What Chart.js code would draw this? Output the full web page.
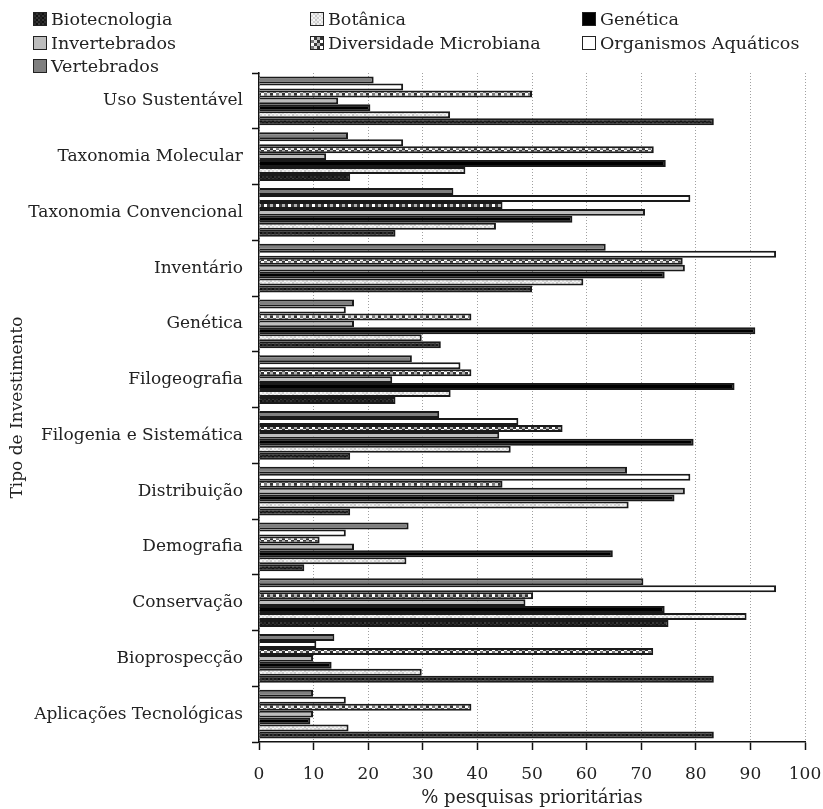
<!DOCTYPE html>
<html>
<head>
<meta charset="utf-8">
<script src="https://cdn.jsdelivr.net/npm/chart.js@4"></script>
<style>
  html, body { margin: 0; padding: 0; background: #fff; }
  #wrap { position: relative; width: 823px; height: 809px; }
  #legend { position: absolute; left: 0; top: 0; width: 823px; height: 73px;
    font-family: "DejaVu Serif", serif; font-size: 17.5px; color: #222; }
  .item { position: absolute; display: flex; align-items: center; white-space: nowrap; }
  .box { width: 12px; height: 12px; border: 1px solid #222; margin-right: 4px; }
</style>
</head>
<body>
<div id="wrap">
  <canvas id="chartData" width="823" height="809"></canvas>
  <div id="legend"></div>
</div>
<script>
{
    // categories, top to bottom
    const categories = [
        'Uso Sustentável', 'Taxonomia Molecular', 'Taxonomia Convencional', 'Inventário',
        'Genética', 'Filogeografia', 'Filogenia e Sistemática', 'Distribuição',
        'Demografia', 'Conservação', 'Bioprospecção', 'Aplicações Tecnológicas'
    ];

    // % pesquisas prioritárias, one value per category
    const biotecnologia = [83.3, 16.7, 25, 50, 33.3, 25, 16.7, 16.7, 8.3, 75, 83.3, 83.3];
    const botanica = [35, 37.8, 43.4, 59.4, 29.8, 35.1, 46.1, 67.7, 27, 89.3, 29.8, 16.4];
    const genetica = [20.4, 74.5, 57.4, 74.3, 90.9, 87.1, 79.6, 76.1, 64.8, 74.3, 13.3, 9.4];
    const invertebrados = [14.5, 12.3, 70.7, 78, 17.4, 24.4, 44, 78, 17.4, 48.8, 9.9, 9.9];
    const diversidadeMicrobiana = [50, 72.3, 44.6, 77.6, 38.9, 38.9, 55.6, 44.6, 11.1, 50.2, 72.2, 38.9];
    const organismosAquaticos = [26.4, 26.4, 79, 94.7, 15.9, 36.9, 47.5, 79, 15.9, 94.7, 10.5, 15.9];
    const vertebrados = [21, 16.3, 35.6, 63.5, 17.4, 28, 33, 67.4, 27.4, 70.4, 13.8, 9.9];

    const xTicks = [0, 10, 20, 30, 40, 50, 60, 70, 80, 90, 100];

    const FONT = '"DejaVu Serif", serif';

    // small tiled fills
    function makeTile(cells, size) {
        let c = document.createElement('canvas');
        c.width = cells[0].length * size;
        c.height = cells.length * size;
        let g = c.getContext('2d');
        cells.forEach((row, r) => row.forEach((col, k) => {
            g.fillStyle = col;
            g.fillRect(k * size, r * size, size, size);
        }));
        return c;
    }

    const ctx = document.getElementById('chartData');
    const g2 = ctx.getContext('2d');

    const tiles = {
        biotec: makeTile([
            ['#1c1c1c', '#333', '#1c1c1c', '#262626', '#111', '#2e2e2e'],
            ['#2b2b2b', '#111', '#3a3a3a', '#1a1a1a', '#333', '#1c1c1c']
        ], 2),
        botanica: makeTile([
            ['#f2f2f2', '#d4d4d4', '#e8e8e8', '#cccccc', '#f6f6f6', '#dddddd'],
            ['#dcdcdc', '#f7f7f7', '#c8c8c8', '#eeeeee', '#d8d8d8', '#f0f0f0']
        ], 2),
        micro: makeTile([
            ['#ffffff', '#3a3a3a', '#b0b0b0', '#333333'],
            ['#7a7a7a', '#e0e0e0', '#333333', '#ffffff']
        ], 3)
    };

    const fills = {
        biotec: g2.createPattern(tiles.biotec, 'repeat'),
        botanica: g2.createPattern(tiles.botanica, 'repeat'),
        micro: g2.createPattern(tiles.micro, 'repeat')
    };

    // dataset order = top to bottom inside each group
    const series = [
        { label: 'Vertebrados', data: vertebrados, bg: '#7f7f7f', css: '#7f7f7f' },
        { label: 'Organismos Aquáticos', data: organismosAquaticos, bg: '#ffffff', css: '#ffffff' },
        { label: 'Diversidade Microbiana', data: diversidadeMicrobiana, bg: fills.micro, tile: tiles.micro },
        { label: 'Invertebrados', data: invertebrados, bg: '#bdbdbd', css: '#bdbdbd' },
        { label: 'Genética', data: genetica, bg: '#000000', css: '#000000' },
        { label: 'Botânica', data: botanica, bg: fills.botanica, tile: tiles.botanica },
        { label: 'Biotecnologia', data: biotecnologia, bg: fills.biotec, tile: tiles.biotec }
    ];

    new Chart(ctx, {
        type: 'bar',
        data: {
            labels: categories,
            datasets: series.map(s => ({
                label: s.label,
                data: s.data,
                backgroundColor: s.bg,
                borderColor: '#1a1a1a',
                borderWidth: 2,
                categoryPercentage: 0.87,
                barPercentage: 1.0
            }))
        },
        options: {
            indexAxis: 'y',
            responsive: false,
            animation: false,
            layout: { padding: { top: 73, right: 18, left: 0, bottom: 0 } },
            plugins: {
                legend: { display: false },
                tooltip: { enabled: false }
            },
            scales: {
                x: {
                    min: 0,
                    max: 100,
                    afterBuildTicks: (scale) => {
                        scale.ticks = xTicks.map(v => ({ value: v }));
                    },
                    afterFit: (scale) => {
                        scale.height = 809 - 742;
                        scale.paddingRight = 0;
                        scale.paddingLeft = 0;
                    },
                    ticks: {
                        color: '#222',
                        font: { family: FONT, size: 17 },
                        padding: 14,
                        maxRotation: 0
                    },
                    grid: {
                        color: '#a0a0a0',
                        lineWidth: 1,
                        tickLength: 8,
                        tickColor: '#111',
                        tickWidth: 1.5,
                        tickBorderDash: []
                    },
                    border: { color: '#111', width: 1.5, dash: [1, 2] },
                    title: {
                        display: true,
                        text: '% pesquisas prioritárias',
                        color: '#222',
                        font: { family: FONT, size: 18 },
                        padding: { top: 1, bottom: 0 }
                    }
                },
                y: {
                    afterFit: (scale) => { scale.width = 259; },
                    ticks: {
                        color: '#222',
                        font: { family: FONT, size: 17 },
                        padding: 9
                    },
                    grid: {
                        offset: true,
                        drawOnChartArea: false,
                        tickLength: 7,
                        tickColor: '#111',
                        tickWidth: 1.5
                    },
                    border: { color: '#111', width: 1.5 },
                    title: {
                        display: true,
                        text: 'Tipo de Investimento',
                        color: '#222',
                        font: { family: FONT, size: 17 },
                        padding: { top: 7, bottom: 0 }
                    }
                }
            }
        }
    });

    // legend laid out in three columns like the original
    const legendOrder = ['Biotecnologia', 'Botânica', 'Genética', 'Invertebrados',
        'Diversidade Microbiana', 'Organismos Aquáticos', 'Vertebrados'];
    const colX = [33, 310, 582];
    const rowY = [9, 33, 56];
    const legendEl = document.getElementById('legend');
    legendOrder.forEach((name, i) => {
        let s = series.find(d => d.label === name);
        let item = document.createElement('div');
        item.className = 'item';
        item.style.left = colX[i % 3] + 'px';
        item.style.top = rowY[Math.floor(i / 3)] + 'px';
        let box = document.createElement('span');
        box.className = 'box';
        if (s.tile) {
            box.style.backgroundImage = `url(${s.tile.toDataURL()})`;
        } else {
            box.style.background = s.css;
        }
        let txt = document.createElement('span');
        txt.textContent = name;
        item.appendChild(box);
        item.appendChild(txt);
        legendEl.appendChild(item);
    });
}
</script>
</body>
</html>
